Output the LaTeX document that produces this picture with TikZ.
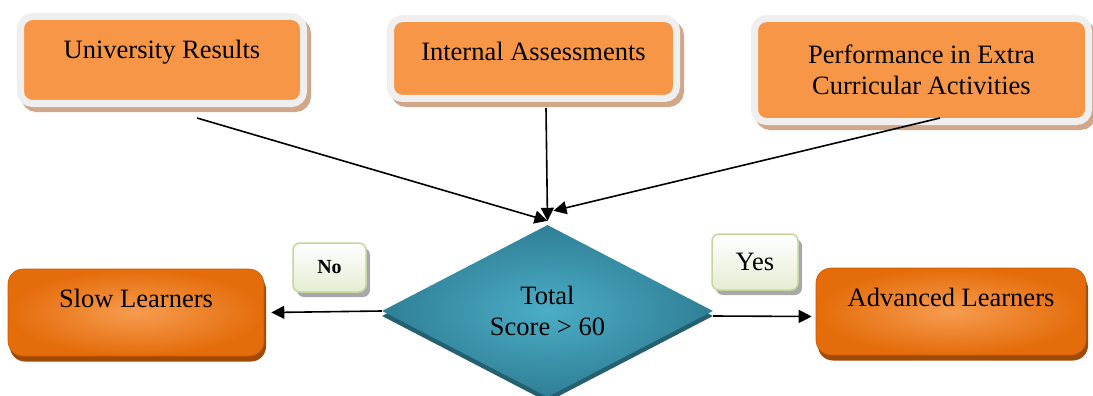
\documentclass[tikz,border=0pt]{standalone}
\usepackage{fontspec}
\setmainfont{Liberation Serif}
\usetikzlibrary{shapes.geometric,arrows.meta}
\definecolor{orA}{HTML}{F79646}
\definecolor{frameC}{HTML}{EFEFEF}
\definecolor{tanC}{HTML}{D0A788}
\definecolor{orIn}{HTML}{F79C50}
\definecolor{orOut}{HTML}{E46C0A}
\definecolor{orLine}{HTML}{C65F09}
\definecolor{orShadow}{HTML}{A04A06}
\definecolor{tealIn}{HTML}{4BADC6}
\definecolor{tealOut}{HTML}{2F7F95}
\definecolor{tealShadow}{HTML}{24606F}
\definecolor{greenLine}{HTML}{C3D69B}
\definecolor{greenBot}{HTML}{E4EDD3}
\definecolor{grayShadow}{HTML}{A8A8A8}
\tikzset{
  bigfont/.style={font=\fontsize{26.5pt}{30.5pt}\selectfont},
  topbox/.style={rectangle, rounded corners=12pt, fill=orA, draw=frameC, line width=7pt,
    inner sep=0pt, align=center, bigfont, text=black},
  topshadow/.style={rectangle, rounded corners=12pt, fill=tanC, draw=tanC, line width=7pt, inner sep=0pt},
  resultbox/.style={rectangle, rounded corners=15pt, inner color=orIn, outer color=orOut,
    draw=orLine, line width=0.6pt, inner sep=0pt, bigfont, text=black},
  resultshadow/.style={rectangle, rounded corners=15pt, fill=orShadow, inner sep=0pt},
  decision/.style={diamond, aspect=1.9, inner sep=0pt, inner color=tealIn, outer color=tealOut,
    align=center, bigfont, text=black},
  decisionshadow/.style={diamond, aspect=1.9, inner sep=0pt, fill=tealShadow},
  tag/.style={rectangle, rounded corners=7pt, top color=white, bottom color=greenBot,
    draw=greenLine, line width=1.5pt, inner sep=0pt, text=black},
  tagshadow/.style={rectangle, rounded corners=7pt, fill=grayShadow, inner sep=0pt},
  arr/.style={line width=1.6pt, -{Triangle[length=13pt,width=13pt]}},
}
\begin{document}
\begin{tikzpicture}[x=1pt,y=-1pt]
\useasboundingbox (0,0) rectangle (1093,396);

% shadows
\node[topshadow, minimum width=283pt, minimum height=87pt] (us) at (166,65) {};
\node[topshadow, minimum width=286pt, minimum height=80pt] (ias) at (537.5,63.5) {};
\node[topshadow, minimum width=334pt, minimum height=103pt] (pfs) at (925.5,75) {};
\node[resultshadow, minimum width=256pt, minimum height=87pt] (sls) at (138,318) {};
\node[resultshadow, minimum width=270pt, minimum height=87pt] (als) at (953,317) {};
\node[decisionshadow, minimum width=331pt, minimum height=172pt] (ds) at (547.5,316) {};
\node[tagshadow, minimum width=73pt, minimum height=49pt] (nos) at (333.5,272.5) {};
\node[tagshadow, minimum width=86pt, minimum height=56pt] (yess) at (759,267) {};

% top boxes
\node[topbox, minimum width=283pt, minimum height=87pt, text height=19pt, text depth=21.5pt]
  (u) at (162,60) {University Results};
\node[topbox, minimum width=286pt, minimum height=80pt, text height=19pt, text depth=14.5pt]
  (ia) at (533.5,58.5) {Internal Assessments};
\node[topbox, minimum width=334pt, minimum height=103pt]
  (pf) at (921.5,70) {Performance in Extra\\Curricular Activities};

% decision
\node[decision, minimum width=331pt, minimum height=172pt] (d) at (547.5,311) {Total\\Score > 60};

% results
\node[resultbox, minimum width=256pt, minimum height=87pt, text height=19pt, text depth=29.5pt]
  (sl) at (136,312.5) {Slow Learners};
\node[resultbox, minimum width=270pt, minimum height=87pt, text height=19pt, text depth=29.5pt]
  (al) at (951,311.5) {Advanced Learners};

% tags
\node[tag, minimum width=73pt, minimum height=49pt, font=\fontsize{20pt}{24pt}\selectfont\bfseries]
  (no) at (329.5,267.5) {No};
\node[tag, minimum width=86pt, minimum height=56pt, bigfont]
  (yes) at (755,262) {Yes};

% connector start points
\coordinate (ua) at (197,118);
\coordinate (iaa) at (546,108);
\coordinate (pfa) at (940,118);

\draw[arr] (ua) -- ([yshift=4pt]d.north);
\draw[arr] (iaa) -- ([yshift=4pt]d.north);
\draw[arr] (pfa) -- ([xshift=6pt,yshift=14pt]d.north);
\draw[arr] (d.west) -- ([xshift=7pt]sl.east);
\draw[arr] ([yshift=-5pt]d.east) -- ([xshift=-4pt,yshift=-5pt]al.west);
\end{tikzpicture}
\end{document}
